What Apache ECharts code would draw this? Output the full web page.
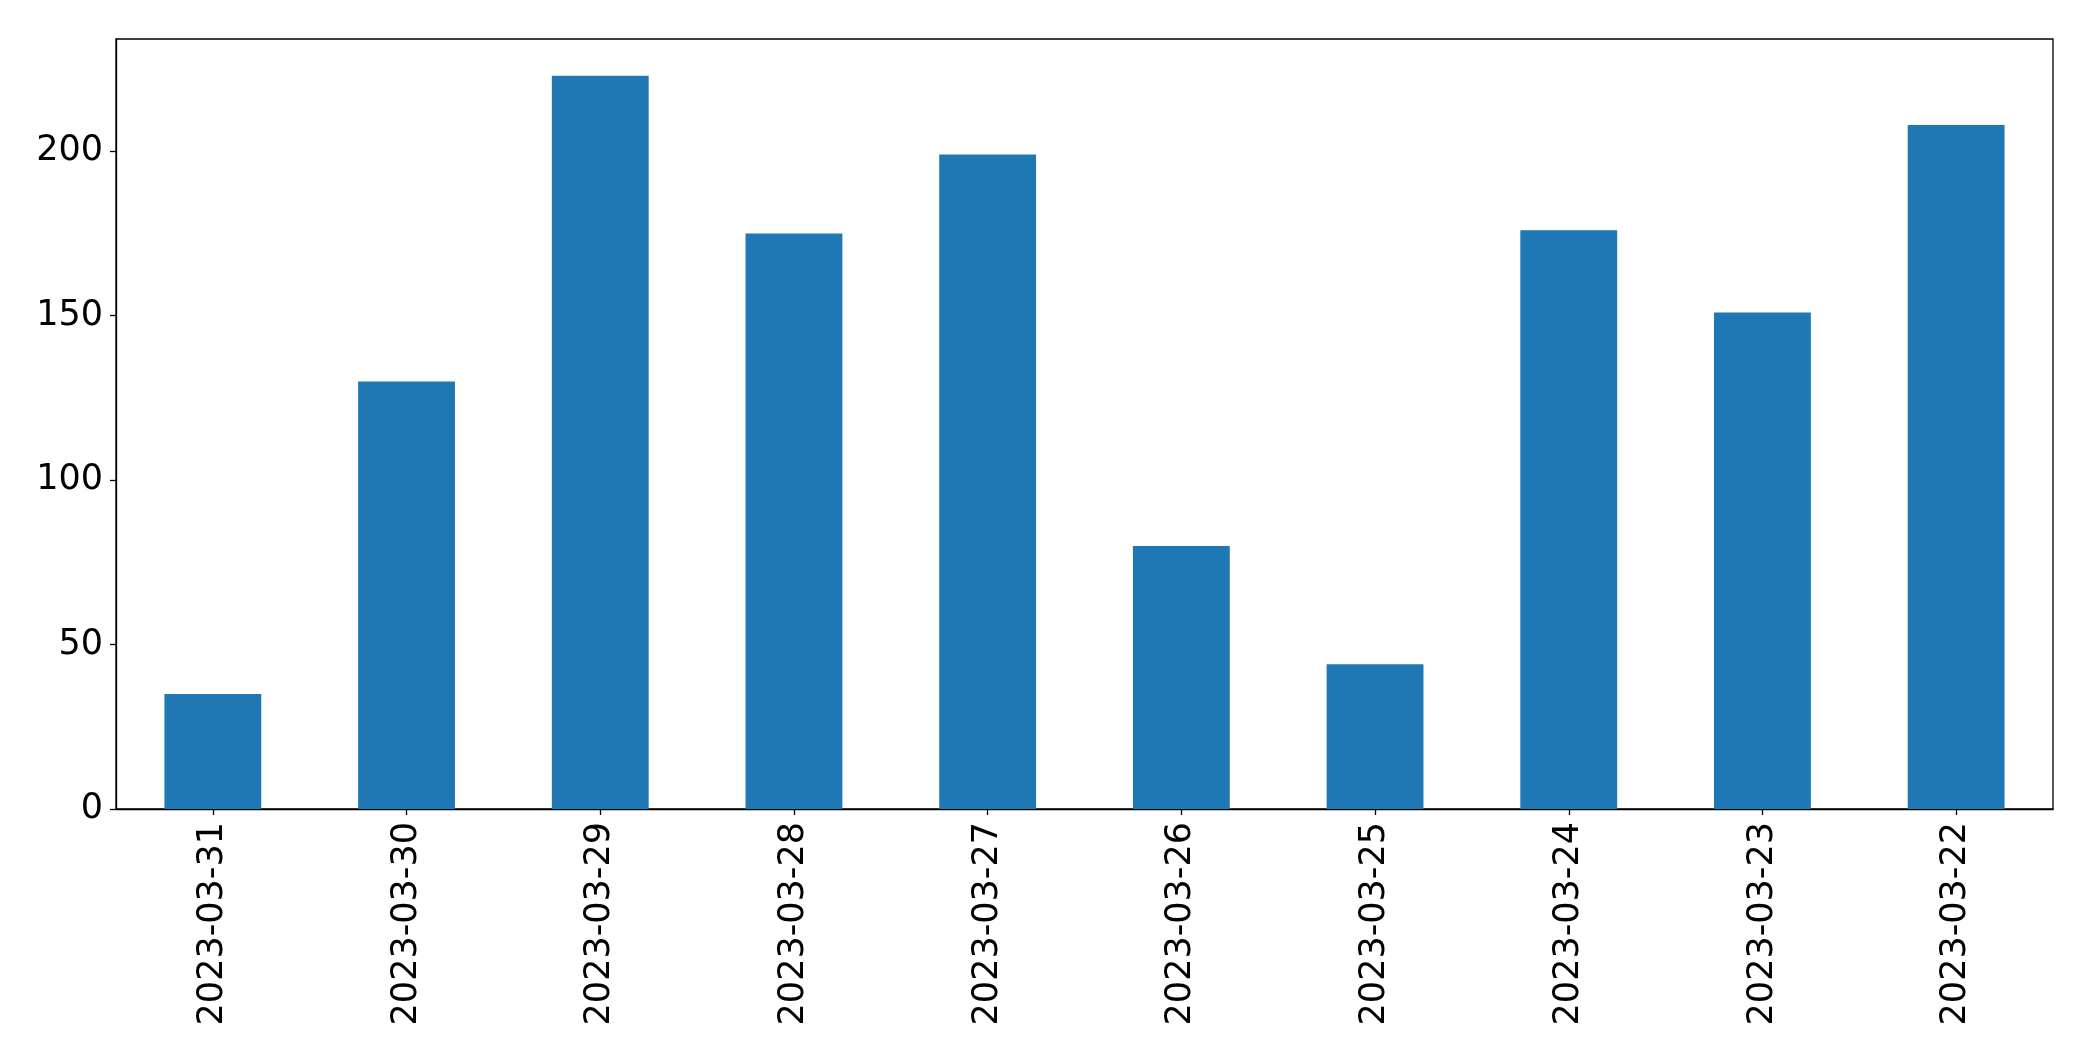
<!DOCTYPE html>
<html>
<head>
<meta charset="utf-8">
<script src="https://cdn.jsdelivr.net/npm/echarts@6/dist/echarts.min.js"></script>
<style>html,body{margin:0;padding:0;background:#fff}#c{width:2093px;height:1061px}</style>
</head>
<body>
<div id="c"></div>
<script>
const categories = ["2023-03-31","2023-03-30","2023-03-29","2023-03-28","2023-03-27","2023-03-26","2023-03-25","2023-03-24","2023-03-23","2023-03-22"];
const values = [35, 130, 223, 175, 199, 80, 44, 176, 151, 208];
const yTicks = [0, 50, 100, 150, 200];

const chart = echarts.init(document.getElementById('c'), null, {renderer: 'canvas'});
const font = 'DejaVu Sans';
chart.setOption({
  animation: false,
  backgroundColor: '#fff',
  grid: {left: 116, right: 40, top: 39, bottom: 252, show: true, borderColor: '#000', borderWidth: 1.3, backgroundColor: 'transparent'},
  xAxis: {
    type: 'category',
    data: categories,
    axisLine: {show: true, lineStyle: {color: '#000', width: 1.3}},
    axisTick: {show: true, alignWithLabel: true, length: 6, lineStyle: {color: '#000', width: 1.3}},
    axisLabel: {rotate: 90, color: '#000', fontFamily: font, fontSize: 35, margin: 13},
    splitLine: {show: false}
  },
  yAxis: {
    type: 'value',
    min: 0,
    max: 234.15,
    interval: 50,
    axisLine: {show: true, lineStyle: {color: '#000', width: 1.3}},
    axisTick: {show: true, length: 6, lineStyle: {color: '#000', width: 1.3}},
    axisLabel: {color: '#000', fontFamily: font, fontSize: 35, margin: 13, showMaxLabel: false,
      formatter: v => yTicks.includes(v) ? String(v) : ''},
    splitLine: {show: false}
  },
  series: [{
    type: 'bar',
    data: values,
    barWidth: '50%',
    itemStyle: {color: '#1f77b4'}
  }]
});
</script>
</body>
</html>
